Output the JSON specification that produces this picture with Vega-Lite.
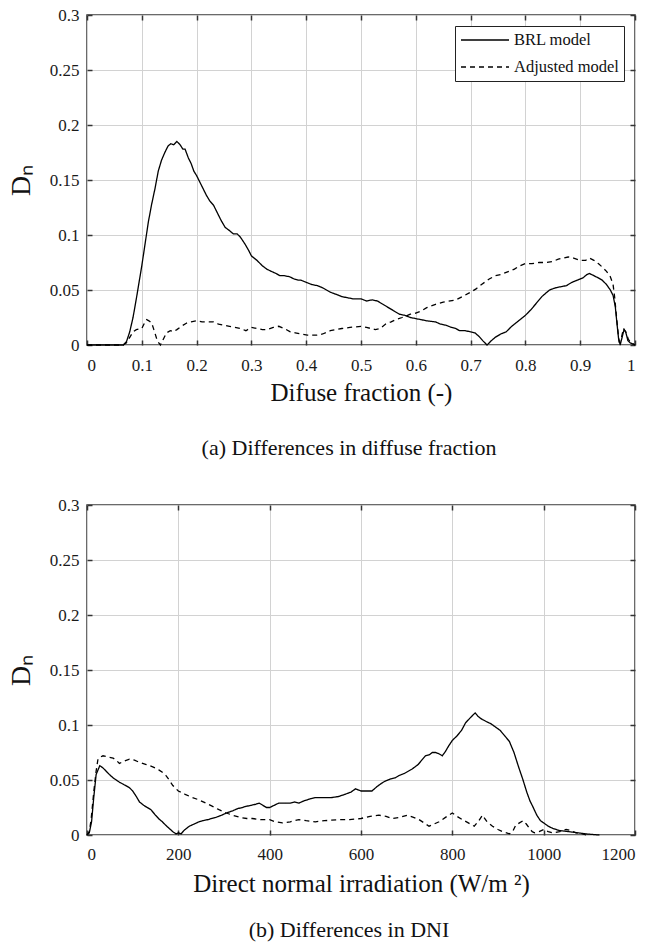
{
  "$schema": "https://vega.github.io/schema/vega-lite/v6.json",
  "autosize": {"type": "none"},
  "padding": {"left": 87, "top": 15, "right": 568, "bottom": 930},
  "background": "white",
  "bounds": "flush",
  "spacing": 160,
  "config": {
    "font": "Times New Roman, Liberation Serif, serif",
    "view": {"stroke": "#3a3a3a", "strokeWidth": 1.5},
    "axis": {
      "labelColor": "#1a1a1a",
      "titleFontWeight": "normal",
      "titleColor": "#111111",
      "gridColor": "#d2d2d2",
      "gridWidth": 1,
      "domain": false,
      "tickColor": "#333333",
      "tickSize": -5,
      "tickWidth": 1.5
    },
    "title": {
      "fontSize": 22,
      "fontWeight": "normal",
      "color": "#111111"
    }
  },
  "datasets": {
    "diffuse": [
      {"x": 0, "D": 0, "model": "BRL model"},
      {"x": 0.03, "D": 0, "model": "BRL model"},
      {"x": 0.066, "D": 0, "model": "BRL model"},
      {"x": 0.072, "D": 0.003, "model": "BRL model"},
      {"x": 0.078, "D": 0.012, "model": "BRL model"},
      {"x": 0.084, "D": 0.025, "model": "BRL model"},
      {"x": 0.09, "D": 0.042, "model": "BRL model"},
      {"x": 0.095, "D": 0.057, "model": "BRL model"},
      {"x": 0.1, "D": 0.072, "model": "BRL model"},
      {"x": 0.106, "D": 0.092, "model": "BRL model"},
      {"x": 0.112, "D": 0.112, "model": "BRL model"},
      {"x": 0.118, "D": 0.128, "model": "BRL model"},
      {"x": 0.124, "D": 0.142, "model": "BRL model"},
      {"x": 0.13, "D": 0.158, "model": "BRL model"},
      {"x": 0.136, "D": 0.168, "model": "BRL model"},
      {"x": 0.142, "D": 0.175, "model": "BRL model"},
      {"x": 0.148, "D": 0.181, "model": "BRL model"},
      {"x": 0.153, "D": 0.183, "model": "BRL model"},
      {"x": 0.158, "D": 0.182, "model": "BRL model"},
      {"x": 0.164, "D": 0.185, "model": "BRL model"},
      {"x": 0.17, "D": 0.182, "model": "BRL model"},
      {"x": 0.175, "D": 0.178, "model": "BRL model"},
      {"x": 0.179, "D": 0.178, "model": "BRL model"},
      {"x": 0.185, "D": 0.17, "model": "BRL model"},
      {"x": 0.19, "D": 0.165, "model": "BRL model"},
      {"x": 0.195, "D": 0.158, "model": "BRL model"},
      {"x": 0.2, "D": 0.154, "model": "BRL model"},
      {"x": 0.206, "D": 0.148, "model": "BRL model"},
      {"x": 0.212, "D": 0.142, "model": "BRL model"},
      {"x": 0.218, "D": 0.136, "model": "BRL model"},
      {"x": 0.224, "D": 0.131, "model": "BRL model"},
      {"x": 0.231, "D": 0.127, "model": "BRL model"},
      {"x": 0.238, "D": 0.12, "model": "BRL model"},
      {"x": 0.245, "D": 0.113, "model": "BRL model"},
      {"x": 0.252, "D": 0.107, "model": "BRL model"},
      {"x": 0.26, "D": 0.104, "model": "BRL model"},
      {"x": 0.267, "D": 0.101, "model": "BRL model"},
      {"x": 0.274, "D": 0.101, "model": "BRL model"},
      {"x": 0.28, "D": 0.098, "model": "BRL model"},
      {"x": 0.288, "D": 0.092, "model": "BRL model"},
      {"x": 0.295, "D": 0.086, "model": "BRL model"},
      {"x": 0.3, "D": 0.081, "model": "BRL model"},
      {"x": 0.31, "D": 0.077, "model": "BRL model"},
      {"x": 0.32, "D": 0.072, "model": "BRL model"},
      {"x": 0.328, "D": 0.069, "model": "BRL model"},
      {"x": 0.336, "D": 0.067, "model": "BRL model"},
      {"x": 0.345, "D": 0.065, "model": "BRL model"},
      {"x": 0.352, "D": 0.063, "model": "BRL model"},
      {"x": 0.36, "D": 0.063, "model": "BRL model"},
      {"x": 0.37, "D": 0.062, "model": "BRL model"},
      {"x": 0.378, "D": 0.06, "model": "BRL model"},
      {"x": 0.385, "D": 0.059, "model": "BRL model"},
      {"x": 0.39, "D": 0.059, "model": "BRL model"},
      {"x": 0.4, "D": 0.057, "model": "BRL model"},
      {"x": 0.41, "D": 0.055, "model": "BRL model"},
      {"x": 0.42, "D": 0.054, "model": "BRL model"},
      {"x": 0.43, "D": 0.052, "model": "BRL model"},
      {"x": 0.444, "D": 0.048, "model": "BRL model"},
      {"x": 0.455, "D": 0.046, "model": "BRL model"},
      {"x": 0.465, "D": 0.044, "model": "BRL model"},
      {"x": 0.475, "D": 0.043, "model": "BRL model"},
      {"x": 0.485, "D": 0.042, "model": "BRL model"},
      {"x": 0.5, "D": 0.042, "model": "BRL model"},
      {"x": 0.51, "D": 0.04, "model": "BRL model"},
      {"x": 0.52, "D": 0.041, "model": "BRL model"},
      {"x": 0.53, "D": 0.04, "model": "BRL model"},
      {"x": 0.54, "D": 0.037, "model": "BRL model"},
      {"x": 0.55, "D": 0.034, "model": "BRL model"},
      {"x": 0.56, "D": 0.031, "model": "BRL model"},
      {"x": 0.57, "D": 0.028, "model": "BRL model"},
      {"x": 0.58, "D": 0.027, "model": "BRL model"},
      {"x": 0.59, "D": 0.025, "model": "BRL model"},
      {"x": 0.6, "D": 0.024, "model": "BRL model"},
      {"x": 0.61, "D": 0.023, "model": "BRL model"},
      {"x": 0.62, "D": 0.022, "model": "BRL model"},
      {"x": 0.636, "D": 0.021, "model": "BRL model"},
      {"x": 0.645, "D": 0.019, "model": "BRL model"},
      {"x": 0.655, "D": 0.018, "model": "BRL model"},
      {"x": 0.665, "D": 0.016, "model": "BRL model"},
      {"x": 0.673, "D": 0.015, "model": "BRL model"},
      {"x": 0.68, "D": 0.013, "model": "BRL model"},
      {"x": 0.69, "D": 0.013, "model": "BRL model"},
      {"x": 0.7, "D": 0.012, "model": "BRL model"},
      {"x": 0.708, "D": 0.011, "model": "BRL model"},
      {"x": 0.715, "D": 0.008, "model": "BRL model"},
      {"x": 0.722, "D": 0.004, "model": "BRL model"},
      {"x": 0.73, "D": 0, "model": "BRL model"},
      {"x": 0.738, "D": 0.004, "model": "BRL model"},
      {"x": 0.745, "D": 0.007, "model": "BRL model"},
      {"x": 0.755, "D": 0.01, "model": "BRL model"},
      {"x": 0.765, "D": 0.012, "model": "BRL model"},
      {"x": 0.775, "D": 0.017, "model": "BRL model"},
      {"x": 0.785, "D": 0.021, "model": "BRL model"},
      {"x": 0.8, "D": 0.027, "model": "BRL model"},
      {"x": 0.81, "D": 0.032, "model": "BRL model"},
      {"x": 0.82, "D": 0.038, "model": "BRL model"},
      {"x": 0.83, "D": 0.044, "model": "BRL model"},
      {"x": 0.844, "D": 0.05, "model": "BRL model"},
      {"x": 0.855, "D": 0.052, "model": "BRL model"},
      {"x": 0.865, "D": 0.053, "model": "BRL model"},
      {"x": 0.875, "D": 0.054, "model": "BRL model"},
      {"x": 0.885, "D": 0.057, "model": "BRL model"},
      {"x": 0.895, "D": 0.059, "model": "BRL model"},
      {"x": 0.905, "D": 0.061, "model": "BRL model"},
      {"x": 0.912, "D": 0.064, "model": "BRL model"},
      {"x": 0.917, "D": 0.065, "model": "BRL model"},
      {"x": 0.925, "D": 0.063, "model": "BRL model"},
      {"x": 0.933, "D": 0.061, "model": "BRL model"},
      {"x": 0.94, "D": 0.059, "model": "BRL model"},
      {"x": 0.948, "D": 0.055, "model": "BRL model"},
      {"x": 0.955, "D": 0.05, "model": "BRL model"},
      {"x": 0.96, "D": 0.045, "model": "BRL model"},
      {"x": 0.964, "D": 0.035, "model": "BRL model"},
      {"x": 0.967, "D": 0.02, "model": "BRL model"},
      {"x": 0.97, "D": 0.006, "model": "BRL model"},
      {"x": 0.973, "D": 0, "model": "BRL model"},
      {"x": 0.976, "D": 0.006, "model": "BRL model"},
      {"x": 0.98, "D": 0.014, "model": "BRL model"},
      {"x": 0.983, "D": 0.012, "model": "BRL model"},
      {"x": 0.987, "D": 0.004, "model": "BRL model"},
      {"x": 0.991, "D": 0.002, "model": "BRL model"},
      {"x": 1, "D": 0, "model": "BRL model"},
      {"x": 0, "D": 0, "model": "Adjusted model"},
      {"x": 0.066, "D": 0, "model": "Adjusted model"},
      {"x": 0.072, "D": 0.002, "model": "Adjusted model"},
      {"x": 0.078, "D": 0.007, "model": "Adjusted model"},
      {"x": 0.084, "D": 0.012, "model": "Adjusted model"},
      {"x": 0.09, "D": 0.014, "model": "Adjusted model"},
      {"x": 0.1, "D": 0.015, "model": "Adjusted model"},
      {"x": 0.105, "D": 0.02, "model": "Adjusted model"},
      {"x": 0.109, "D": 0.023, "model": "Adjusted model"},
      {"x": 0.113, "D": 0.022, "model": "Adjusted model"},
      {"x": 0.118, "D": 0.02, "model": "Adjusted model"},
      {"x": 0.122, "D": 0.014, "model": "Adjusted model"},
      {"x": 0.127, "D": 0.006, "model": "Adjusted model"},
      {"x": 0.131, "D": 0.002, "model": "Adjusted model"},
      {"x": 0.134, "D": 0, "model": "Adjusted model"},
      {"x": 0.138, "D": 0.004, "model": "Adjusted model"},
      {"x": 0.145, "D": 0.011, "model": "Adjusted model"},
      {"x": 0.152, "D": 0.013, "model": "Adjusted model"},
      {"x": 0.158, "D": 0.012, "model": "Adjusted model"},
      {"x": 0.164, "D": 0.014, "model": "Adjusted model"},
      {"x": 0.172, "D": 0.017, "model": "Adjusted model"},
      {"x": 0.182, "D": 0.02, "model": "Adjusted model"},
      {"x": 0.19, "D": 0.021, "model": "Adjusted model"},
      {"x": 0.2, "D": 0.022, "model": "Adjusted model"},
      {"x": 0.21, "D": 0.021, "model": "Adjusted model"},
      {"x": 0.22, "D": 0.021, "model": "Adjusted model"},
      {"x": 0.231, "D": 0.021, "model": "Adjusted model"},
      {"x": 0.24, "D": 0.019, "model": "Adjusted model"},
      {"x": 0.25, "D": 0.018, "model": "Adjusted model"},
      {"x": 0.26, "D": 0.017, "model": "Adjusted model"},
      {"x": 0.27, "D": 0.016, "model": "Adjusted model"},
      {"x": 0.28, "D": 0.015, "model": "Adjusted model"},
      {"x": 0.29, "D": 0.013, "model": "Adjusted model"},
      {"x": 0.3, "D": 0.016, "model": "Adjusted model"},
      {"x": 0.31, "D": 0.015, "model": "Adjusted model"},
      {"x": 0.32, "D": 0.014, "model": "Adjusted model"},
      {"x": 0.328, "D": 0.014, "model": "Adjusted model"},
      {"x": 0.34, "D": 0.016, "model": "Adjusted model"},
      {"x": 0.35, "D": 0.017, "model": "Adjusted model"},
      {"x": 0.36, "D": 0.015, "model": "Adjusted model"},
      {"x": 0.371, "D": 0.012, "model": "Adjusted model"},
      {"x": 0.38, "D": 0.011, "model": "Adjusted model"},
      {"x": 0.39, "D": 0.01, "model": "Adjusted model"},
      {"x": 0.402, "D": 0.009, "model": "Adjusted model"},
      {"x": 0.41, "D": 0.009, "model": "Adjusted model"},
      {"x": 0.42, "D": 0.009, "model": "Adjusted model"},
      {"x": 0.43, "D": 0.01, "model": "Adjusted model"},
      {"x": 0.444, "D": 0.013, "model": "Adjusted model"},
      {"x": 0.455, "D": 0.014, "model": "Adjusted model"},
      {"x": 0.465, "D": 0.015, "model": "Adjusted model"},
      {"x": 0.48, "D": 0.016, "model": "Adjusted model"},
      {"x": 0.5, "D": 0.017, "model": "Adjusted model"},
      {"x": 0.51, "D": 0.016, "model": "Adjusted model"},
      {"x": 0.526, "D": 0.014, "model": "Adjusted model"},
      {"x": 0.535, "D": 0.015, "model": "Adjusted model"},
      {"x": 0.545, "D": 0.019, "model": "Adjusted model"},
      {"x": 0.555, "D": 0.021, "model": "Adjusted model"},
      {"x": 0.563, "D": 0.023, "model": "Adjusted model"},
      {"x": 0.575, "D": 0.025, "model": "Adjusted model"},
      {"x": 0.59, "D": 0.028, "model": "Adjusted model"},
      {"x": 0.6, "D": 0.029, "model": "Adjusted model"},
      {"x": 0.61, "D": 0.031, "model": "Adjusted model"},
      {"x": 0.62, "D": 0.034, "model": "Adjusted model"},
      {"x": 0.636, "D": 0.037, "model": "Adjusted model"},
      {"x": 0.65, "D": 0.039, "model": "Adjusted model"},
      {"x": 0.673, "D": 0.041, "model": "Adjusted model"},
      {"x": 0.685, "D": 0.044, "model": "Adjusted model"},
      {"x": 0.7, "D": 0.048, "model": "Adjusted model"},
      {"x": 0.71, "D": 0.051, "model": "Adjusted model"},
      {"x": 0.72, "D": 0.055, "model": "Adjusted model"},
      {"x": 0.734, "D": 0.06, "model": "Adjusted model"},
      {"x": 0.745, "D": 0.063, "model": "Adjusted model"},
      {"x": 0.755, "D": 0.064, "model": "Adjusted model"},
      {"x": 0.765, "D": 0.066, "model": "Adjusted model"},
      {"x": 0.78, "D": 0.069, "model": "Adjusted model"},
      {"x": 0.79, "D": 0.072, "model": "Adjusted model"},
      {"x": 0.8, "D": 0.074, "model": "Adjusted model"},
      {"x": 0.812, "D": 0.074, "model": "Adjusted model"},
      {"x": 0.825, "D": 0.075, "model": "Adjusted model"},
      {"x": 0.838, "D": 0.075, "model": "Adjusted model"},
      {"x": 0.85, "D": 0.076, "model": "Adjusted model"},
      {"x": 0.86, "D": 0.078, "model": "Adjusted model"},
      {"x": 0.868, "D": 0.079, "model": "Adjusted model"},
      {"x": 0.878, "D": 0.08, "model": "Adjusted model"},
      {"x": 0.888, "D": 0.079, "model": "Adjusted model"},
      {"x": 0.9, "D": 0.077, "model": "Adjusted model"},
      {"x": 0.91, "D": 0.077, "model": "Adjusted model"},
      {"x": 0.917, "D": 0.079, "model": "Adjusted model"},
      {"x": 0.925, "D": 0.077, "model": "Adjusted model"},
      {"x": 0.933, "D": 0.074, "model": "Adjusted model"},
      {"x": 0.94, "D": 0.071, "model": "Adjusted model"},
      {"x": 0.948, "D": 0.067, "model": "Adjusted model"},
      {"x": 0.955, "D": 0.062, "model": "Adjusted model"},
      {"x": 0.96, "D": 0.055, "model": "Adjusted model"},
      {"x": 0.963, "D": 0.043, "model": "Adjusted model"},
      {"x": 0.966, "D": 0.027, "model": "Adjusted model"},
      {"x": 0.969, "D": 0.012, "model": "Adjusted model"},
      {"x": 0.971, "D": 0.003, "model": "Adjusted model"},
      {"x": 0.974, "D": 0.004, "model": "Adjusted model"},
      {"x": 0.979, "D": 0.015, "model": "Adjusted model"},
      {"x": 0.983, "D": 0.012, "model": "Adjusted model"},
      {"x": 0.988, "D": 0.005, "model": "Adjusted model"},
      {"x": 0.993, "D": 0.002, "model": "Adjusted model"},
      {"x": 1, "D": 0, "model": "Adjusted model"}
    ],
    "dni": [
      {"x": 0, "D": 0, "model": "BRL model"},
      {"x": 5, "D": 0.002, "model": "BRL model"},
      {"x": 10, "D": 0.012, "model": "BRL model"},
      {"x": 15, "D": 0.035, "model": "BRL model"},
      {"x": 20, "D": 0.055, "model": "BRL model"},
      {"x": 25, "D": 0.06, "model": "BRL model"},
      {"x": 28, "D": 0.063, "model": "BRL model"},
      {"x": 35, "D": 0.061, "model": "BRL model"},
      {"x": 42, "D": 0.058, "model": "BRL model"},
      {"x": 49, "D": 0.055, "model": "BRL model"},
      {"x": 57, "D": 0.052, "model": "BRL model"},
      {"x": 64, "D": 0.05, "model": "BRL model"},
      {"x": 71, "D": 0.048, "model": "BRL model"},
      {"x": 80, "D": 0.046, "model": "BRL model"},
      {"x": 93, "D": 0.043, "model": "BRL model"},
      {"x": 100, "D": 0.04, "model": "BRL model"},
      {"x": 108, "D": 0.035, "model": "BRL model"},
      {"x": 115, "D": 0.03, "model": "BRL model"},
      {"x": 124, "D": 0.027, "model": "BRL model"},
      {"x": 132, "D": 0.025, "model": "BRL model"},
      {"x": 140, "D": 0.023, "model": "BRL model"},
      {"x": 150, "D": 0.018, "model": "BRL model"},
      {"x": 159, "D": 0.014, "model": "BRL model"},
      {"x": 165, "D": 0.012, "model": "BRL model"},
      {"x": 172, "D": 0.009, "model": "BRL model"},
      {"x": 180, "D": 0.006, "model": "BRL model"},
      {"x": 188, "D": 0.003, "model": "BRL model"},
      {"x": 195, "D": 0.001, "model": "BRL model"},
      {"x": 200, "D": 0.002, "model": "BRL model"},
      {"x": 206, "D": 0.001, "model": "BRL model"},
      {"x": 212, "D": 0.004, "model": "BRL model"},
      {"x": 224, "D": 0.008, "model": "BRL model"},
      {"x": 235, "D": 0.01, "model": "BRL model"},
      {"x": 245, "D": 0.012, "model": "BRL model"},
      {"x": 253, "D": 0.013, "model": "BRL model"},
      {"x": 265, "D": 0.014, "model": "BRL model"},
      {"x": 282, "D": 0.016, "model": "BRL model"},
      {"x": 295, "D": 0.018, "model": "BRL model"},
      {"x": 305, "D": 0.02, "model": "BRL model"},
      {"x": 319, "D": 0.022, "model": "BRL model"},
      {"x": 330, "D": 0.024, "model": "BRL model"},
      {"x": 340, "D": 0.025, "model": "BRL model"},
      {"x": 348, "D": 0.026, "model": "BRL model"},
      {"x": 360, "D": 0.027, "model": "BRL model"},
      {"x": 370, "D": 0.028, "model": "BRL model"},
      {"x": 377, "D": 0.029, "model": "BRL model"},
      {"x": 385, "D": 0.027, "model": "BRL model"},
      {"x": 393, "D": 0.025, "model": "BRL model"},
      {"x": 400, "D": 0.025, "model": "BRL model"},
      {"x": 410, "D": 0.027, "model": "BRL model"},
      {"x": 420, "D": 0.029, "model": "BRL model"},
      {"x": 430, "D": 0.029, "model": "BRL model"},
      {"x": 445, "D": 0.029, "model": "BRL model"},
      {"x": 455, "D": 0.03, "model": "BRL model"},
      {"x": 464, "D": 0.029, "model": "BRL model"},
      {"x": 475, "D": 0.031, "model": "BRL model"},
      {"x": 490, "D": 0.033, "model": "BRL model"},
      {"x": 500, "D": 0.034, "model": "BRL model"},
      {"x": 520, "D": 0.034, "model": "BRL model"},
      {"x": 535, "D": 0.034, "model": "BRL model"},
      {"x": 551, "D": 0.035, "model": "BRL model"},
      {"x": 565, "D": 0.037, "model": "BRL model"},
      {"x": 578, "D": 0.039, "model": "BRL model"},
      {"x": 588, "D": 0.042, "model": "BRL model"},
      {"x": 600, "D": 0.04, "model": "BRL model"},
      {"x": 612, "D": 0.04, "model": "BRL model"},
      {"x": 624, "D": 0.04, "model": "BRL model"},
      {"x": 635, "D": 0.044, "model": "BRL model"},
      {"x": 645, "D": 0.047, "model": "BRL model"},
      {"x": 653, "D": 0.049, "model": "BRL model"},
      {"x": 665, "D": 0.051, "model": "BRL model"},
      {"x": 675, "D": 0.052, "model": "BRL model"},
      {"x": 683, "D": 0.054, "model": "BRL model"},
      {"x": 695, "D": 0.056, "model": "BRL model"},
      {"x": 712, "D": 0.06, "model": "BRL model"},
      {"x": 725, "D": 0.064, "model": "BRL model"},
      {"x": 733, "D": 0.068, "model": "BRL model"},
      {"x": 741, "D": 0.072, "model": "BRL model"},
      {"x": 750, "D": 0.073, "model": "BRL model"},
      {"x": 756, "D": 0.075, "model": "BRL model"},
      {"x": 763, "D": 0.075, "model": "BRL model"},
      {"x": 770, "D": 0.074, "model": "BRL model"},
      {"x": 778, "D": 0.072, "model": "BRL model"},
      {"x": 785, "D": 0.076, "model": "BRL model"},
      {"x": 792, "D": 0.081, "model": "BRL model"},
      {"x": 800, "D": 0.086, "model": "BRL model"},
      {"x": 810, "D": 0.09, "model": "BRL model"},
      {"x": 820, "D": 0.095, "model": "BRL model"},
      {"x": 829, "D": 0.102, "model": "BRL model"},
      {"x": 838, "D": 0.106, "model": "BRL model"},
      {"x": 845, "D": 0.109, "model": "BRL model"},
      {"x": 850, "D": 0.111, "model": "BRL model"},
      {"x": 856, "D": 0.108, "model": "BRL model"},
      {"x": 862, "D": 0.106, "model": "BRL model"},
      {"x": 866, "D": 0.105, "model": "BRL model"},
      {"x": 875, "D": 0.103, "model": "BRL model"},
      {"x": 885, "D": 0.101, "model": "BRL model"},
      {"x": 895, "D": 0.098, "model": "BRL model"},
      {"x": 905, "D": 0.095, "model": "BRL model"},
      {"x": 915, "D": 0.09, "model": "BRL model"},
      {"x": 925, "D": 0.085, "model": "BRL model"},
      {"x": 935, "D": 0.075, "model": "BRL model"},
      {"x": 945, "D": 0.062, "model": "BRL model"},
      {"x": 954, "D": 0.051, "model": "BRL model"},
      {"x": 963, "D": 0.039, "model": "BRL model"},
      {"x": 970, "D": 0.031, "model": "BRL model"},
      {"x": 976, "D": 0.026, "model": "BRL model"},
      {"x": 985, "D": 0.018, "model": "BRL model"},
      {"x": 993, "D": 0.013, "model": "BRL model"},
      {"x": 1000, "D": 0.011, "model": "BRL model"},
      {"x": 1010, "D": 0.008, "model": "BRL model"},
      {"x": 1020, "D": 0.006, "model": "BRL model"},
      {"x": 1035, "D": 0.004, "model": "BRL model"},
      {"x": 1056, "D": 0.003, "model": "BRL model"},
      {"x": 1075, "D": 0.002, "model": "BRL model"},
      {"x": 1093, "D": 0.001, "model": "BRL model"},
      {"x": 1122, "D": 0, "model": "BRL model"},
      {"x": 0, "D": 0, "model": "Adjusted model"},
      {"x": 5, "D": 0.003, "model": "Adjusted model"},
      {"x": 9, "D": 0.014, "model": "Adjusted model"},
      {"x": 15, "D": 0.04, "model": "Adjusted model"},
      {"x": 20, "D": 0.058, "model": "Adjusted model"},
      {"x": 24, "D": 0.069, "model": "Adjusted model"},
      {"x": 30, "D": 0.071, "model": "Adjusted model"},
      {"x": 35, "D": 0.072, "model": "Adjusted model"},
      {"x": 45, "D": 0.071, "model": "Adjusted model"},
      {"x": 57, "D": 0.07, "model": "Adjusted model"},
      {"x": 64, "D": 0.068, "model": "Adjusted model"},
      {"x": 71, "D": 0.065, "model": "Adjusted model"},
      {"x": 80, "D": 0.067, "model": "Adjusted model"},
      {"x": 93, "D": 0.069, "model": "Adjusted model"},
      {"x": 104, "D": 0.068, "model": "Adjusted model"},
      {"x": 115, "D": 0.066, "model": "Adjusted model"},
      {"x": 130, "D": 0.064, "model": "Adjusted model"},
      {"x": 144, "D": 0.062, "model": "Adjusted model"},
      {"x": 158, "D": 0.059, "model": "Adjusted model"},
      {"x": 165, "D": 0.057, "model": "Adjusted model"},
      {"x": 173, "D": 0.054, "model": "Adjusted model"},
      {"x": 180, "D": 0.05, "model": "Adjusted model"},
      {"x": 188, "D": 0.045, "model": "Adjusted model"},
      {"x": 200, "D": 0.04, "model": "Adjusted model"},
      {"x": 215, "D": 0.037, "model": "Adjusted model"},
      {"x": 231, "D": 0.034, "model": "Adjusted model"},
      {"x": 245, "D": 0.032, "model": "Adjusted model"},
      {"x": 260, "D": 0.029, "model": "Adjusted model"},
      {"x": 275, "D": 0.026, "model": "Adjusted model"},
      {"x": 289, "D": 0.023, "model": "Adjusted model"},
      {"x": 305, "D": 0.02, "model": "Adjusted model"},
      {"x": 319, "D": 0.018, "model": "Adjusted model"},
      {"x": 335, "D": 0.016, "model": "Adjusted model"},
      {"x": 350, "D": 0.015, "model": "Adjusted model"},
      {"x": 362, "D": 0.015, "model": "Adjusted model"},
      {"x": 380, "D": 0.014, "model": "Adjusted model"},
      {"x": 400, "D": 0.014, "model": "Adjusted model"},
      {"x": 412, "D": 0.012, "model": "Adjusted model"},
      {"x": 428, "D": 0.011, "model": "Adjusted model"},
      {"x": 445, "D": 0.012, "model": "Adjusted model"},
      {"x": 464, "D": 0.014, "model": "Adjusted model"},
      {"x": 480, "D": 0.013, "model": "Adjusted model"},
      {"x": 500, "D": 0.012, "model": "Adjusted model"},
      {"x": 520, "D": 0.013, "model": "Adjusted model"},
      {"x": 551, "D": 0.014, "model": "Adjusted model"},
      {"x": 575, "D": 0.014, "model": "Adjusted model"},
      {"x": 600, "D": 0.015, "model": "Adjusted model"},
      {"x": 620, "D": 0.017, "model": "Adjusted model"},
      {"x": 639, "D": 0.018, "model": "Adjusted model"},
      {"x": 655, "D": 0.017, "model": "Adjusted model"},
      {"x": 668, "D": 0.015, "model": "Adjusted model"},
      {"x": 685, "D": 0.016, "model": "Adjusted model"},
      {"x": 701, "D": 0.018, "model": "Adjusted model"},
      {"x": 715, "D": 0.016, "model": "Adjusted model"},
      {"x": 727, "D": 0.014, "model": "Adjusted model"},
      {"x": 738, "D": 0.011, "model": "Adjusted model"},
      {"x": 749, "D": 0.008, "model": "Adjusted model"},
      {"x": 760, "D": 0.01, "model": "Adjusted model"},
      {"x": 771, "D": 0.012, "model": "Adjusted model"},
      {"x": 785, "D": 0.016, "model": "Adjusted model"},
      {"x": 800, "D": 0.02, "model": "Adjusted model"},
      {"x": 810, "D": 0.017, "model": "Adjusted model"},
      {"x": 822, "D": 0.014, "model": "Adjusted model"},
      {"x": 835, "D": 0.011, "model": "Adjusted model"},
      {"x": 848, "D": 0.008, "model": "Adjusted model"},
      {"x": 858, "D": 0.013, "model": "Adjusted model"},
      {"x": 866, "D": 0.018, "model": "Adjusted model"},
      {"x": 876, "D": 0.012, "model": "Adjusted model"},
      {"x": 888, "D": 0.008, "model": "Adjusted model"},
      {"x": 900, "D": 0.005, "model": "Adjusted model"},
      {"x": 910, "D": 0.003, "model": "Adjusted model"},
      {"x": 925, "D": 0.001, "model": "Adjusted model"},
      {"x": 932, "D": 0.003, "model": "Adjusted model"},
      {"x": 939, "D": 0.009, "model": "Adjusted model"},
      {"x": 947, "D": 0.011, "model": "Adjusted model"},
      {"x": 955, "D": 0.013, "model": "Adjusted model"},
      {"x": 962, "D": 0.01, "model": "Adjusted model"},
      {"x": 969, "D": 0.006, "model": "Adjusted model"},
      {"x": 975, "D": 0.003, "model": "Adjusted model"},
      {"x": 980, "D": 0.002, "model": "Adjusted model"},
      {"x": 990, "D": 0.003, "model": "Adjusted model"},
      {"x": 1000, "D": 0.005, "model": "Adjusted model"},
      {"x": 1010, "D": 0.003, "model": "Adjusted model"},
      {"x": 1020, "D": 0.002, "model": "Adjusted model"},
      {"x": 1035, "D": 0.003, "model": "Adjusted model"},
      {"x": 1049, "D": 0.005, "model": "Adjusted model"},
      {"x": 1060, "D": 0.004, "model": "Adjusted model"},
      {"x": 1071, "D": 0.002, "model": "Adjusted model"},
      {"x": 1085, "D": 0.001, "model": "Adjusted model"},
      {"x": 1093, "D": 0, "model": "Adjusted model"}
    ]
  },
  "vconcat": [
    {
      "width": 548,
      "height": 330,
      "title": {"text": "(a) Differences in diffuse fraction", "orient": "bottom", "offset": 33, "dx": -12},
      "data": {"name": "diffuse"},
      "layer": [
        {
          "mark": {"type": "line", "color": "black", "strokeWidth": 1.3},
          "encoding": {
            "x": {"field": "x", "type": "quantitative", "scale": {"domain": [0, 1], "nice": false},
                  "axis": {"values": [0, 0.1, 0.2, 0.3, 0.4, 0.5, 0.6, 0.7, 0.8, 0.9, 1], "format": "~g", "title": "Difuse fraction (-)",
                           "labelFontSize": 17, "labelPadding": 17, "titleFontSize": 25, "titlePadding": 7}},
            "y": {"field": "D", "type": "quantitative", "scale": {"domain": [0, 0.3], "nice": false},
                  "axis": {"values": [0, 0.05, 0.1, 0.15, 0.2, 0.25, 0.3], "format": "~g", "title": "Dₙ",
                           "labelFontSize": 17, "labelPadding": 13, "titleFontSize": 28, "titlePadding": 14}},
            "strokeDash": {"field": "model", "type": "nominal",
                           "scale": {"domain": ["BRL model", "Adjusted model"], "range": [[1, 0], [5, 4]]},
                           "legend": {"title": null, "orient": "top-right", "offset": 11,
                                      "strokeColor": "#222222", "fillColor": "white", "padding": 5,
                                      "labelFontSize": 16.5, "labelColor": "#111111",
                                      "symbolType": "M-1,0H5", "symbolSize": 256, "symbolStrokeWidth": 1.3,
                                      "symbolStrokeColor": "black", "rowPadding": 9, "labelOffset": 36}}
          }
        },
        {
          "mark": {"type": "line", "opacity": 0},
          "encoding": {
            "x": {"field": "x", "type": "quantitative",
                  "axis": {"orient": "top", "values": [0, 0.1, 0.2, 0.3, 0.4, 0.5, 0.6, 0.7, 0.8, 0.9, 1], "labels": false, "grid": false, "title": null}},
            "y": {"field": "D", "type": "quantitative",
                  "axis": {"orient": "right", "values": [0, 0.05, 0.1, 0.15, 0.2, 0.25, 0.3], "labels": false, "grid": false, "title": null}}
          }
        }
      ],
      "resolve": {"axis": {"x": "independent", "y": "independent"}}
    },
    {
      "width": 548,
      "height": 330,
      "title": {"text": "(b) Differences in DNI", "orient": "bottom", "offset": 24, "dx": -12},
      "data": {"name": "dni"},
      "layer": [
        {
          "mark": {"type": "line", "color": "black", "strokeWidth": 1.3},
          "encoding": {
            "x": {"field": "x", "type": "quantitative", "scale": {"domain": [0, 1200], "nice": false},
                  "axis": {"values": [0, 200, 400, 600, 800, 1000, 1200], "format": "d", "title": "Direct normal irradiation (W/m ²)",
                           "labelFontSize": 17, "labelPadding": 16, "titleFontSize": 25, "titlePadding": 9}},
            "y": {"field": "D", "type": "quantitative", "scale": {"domain": [0, 0.3], "nice": false},
                  "axis": {"values": [0, 0.05, 0.1, 0.15, 0.2, 0.25, 0.3], "format": "~g", "title": "Dₙ",
                           "labelFontSize": 17, "labelPadding": 13, "titleFontSize": 28, "titlePadding": 14}},
            "strokeDash": {"field": "model", "type": "nominal",
                           "scale": {"domain": ["BRL model", "Adjusted model"], "range": [[1, 0], [5, 4]]},
                           "legend": {"title": null, "orient": "top-right", "offset": 11,
                                      "strokeColor": "#222222", "fillColor": "white", "padding": 5,
                                      "labelFontSize": 16.5, "labelColor": "#111111",
                                      "symbolType": "M-1,0H5", "symbolSize": 256, "symbolStrokeWidth": 1.3,
                                      "symbolStrokeColor": "black", "rowPadding": 9, "labelOffset": 36}}
          }
        },
        {
          "mark": {"type": "line", "opacity": 0},
          "encoding": {
            "x": {"field": "x", "type": "quantitative",
                  "axis": {"orient": "top", "values": [0, 200, 400, 600, 800, 1000, 1200], "labels": false, "grid": false, "title": null}},
            "y": {"field": "D", "type": "quantitative",
                  "axis": {"orient": "right", "values": [0, 0.05, 0.1, 0.15, 0.2, 0.25, 0.3], "labels": false, "grid": false, "title": null}}
          }
        }
      ],
      "resolve": {"axis": {"x": "independent", "y": "independent"}}
    }
  ]
}
